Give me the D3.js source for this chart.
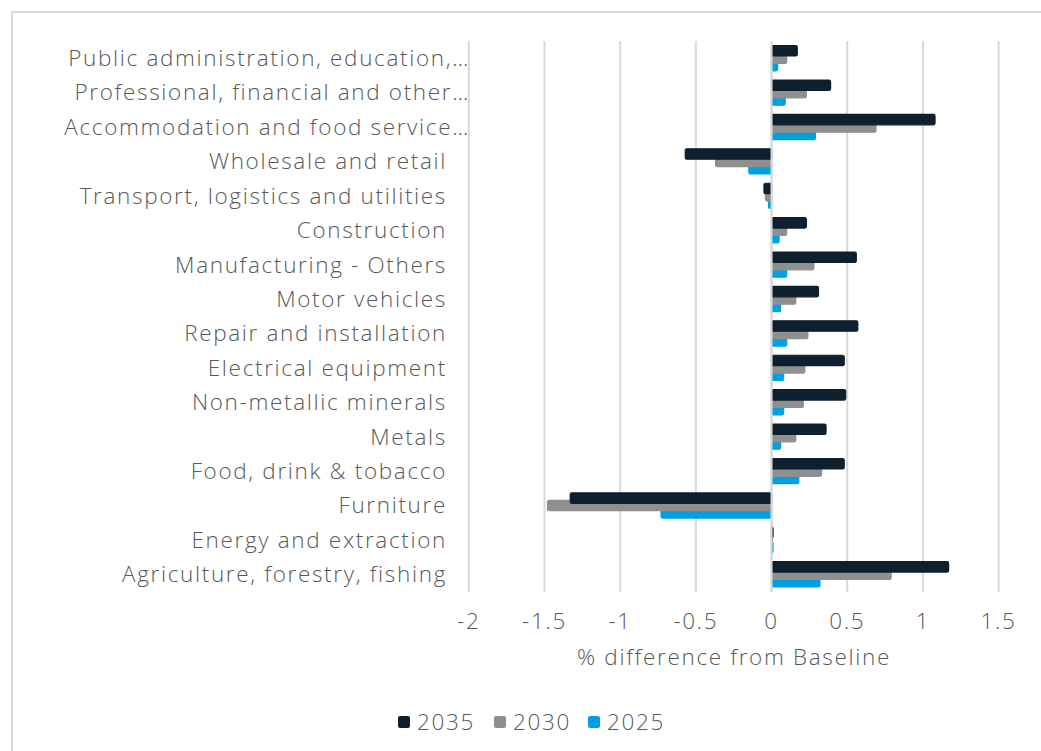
<!DOCTYPE html>
<html>
<head>
<meta charset="utf-8">
<script src="https://cdn.jsdelivr.net/npm/d3@7"></script>
<style>
  html, body { margin: 0; padding: 0; background: #fff; }
  svg { display: block; }
  text { font-family: "Open Sans", "Lato", sans-serif; font-weight: 300; fill: #595959; }
</style>
</head>
<body>
<svg id="chart" width="1041" height="751"></svg>
<script>
// Sector labels, top to bottom
const categories = [
  "Public administration, education,…",
  "Professional, financial and other…",
  "Accommodation and food service…",
  "Wholesale and retail",
  "Transport, logistics and utilities",
  "Construction",
  "Manufacturing - Others",
  "Motor vehicles",
  "Repair and installation",
  "Electrical equipment",
  "Non-metallic minerals",
  "Metals",
  "Food, drink & tobacco",
  "Furniture",
  "Energy and extraction",
  "Agriculture, forestry, fishing"
];

// % difference from baseline, per sector, per year
const values2035 = [0.17, 0.39, 1.08, -0.57, -0.05, 0.23, 0.56, 0.31, 0.57, 0.48, 0.49, 0.36, 0.48, -1.33, 0.01, 1.17];
const values2030 = [0.10, 0.23, 0.69, -0.37, -0.04, 0.10, 0.28, 0.16, 0.24, 0.22, 0.21, 0.16, 0.33, -1.48, 0.005, 0.79];
const values2025 = [0.04, 0.09, 0.29, -0.15, -0.02, 0.05, 0.10, 0.06, 0.10, 0.08, 0.08, 0.06, 0.18, -0.73, 0.01, 0.32];

const seriesNames = ["2035", "2030", "2025"];
const seriesValues = [values2035, values2030, values2025];
const seriesColors = ["#0e1f2d", "#8f8f8f", "#00a0e3"];

const xTicks = [-2, -1.5, -1, -0.5, 0, 0.5, 1, 1.5];

const svg = d3.select("#chart");
const grid = "#d9d9d9";
const fontSize = 22.5;

// widen the letter spacing so the longest plain label spans 325px
const probe = svg.append("text").attr("font-size", fontSize).text("Agriculture, forestry, fishing");
const natural = probe.node().getComputedTextLength();
probe.remove();
const spacing = Math.max(0, (325 - natural) / 30);

// outer frame (left and top edges)
svg.append("path")
  .attr("d", "M12,751 L12,12 L1041,12")
  .attr("fill", "none").attr("stroke", grid).attr("stroke-width", 2);

const x = d3.scaleLinear().domain([-2, 1.5]).range([468.8, 998.6]);
const y = d3.scaleBand().domain(categories).range([41, 591.5]).paddingInner(0).paddingOuter(0);
const sub = d3.scalePoint().domain(seriesNames).range([-7.4, 7.4]);
const barH = 10.4;

// vertical gridlines
svg.append("g").selectAll("line").data(xTicks).join("line")
  .attr("x1", d => x(d)).attr("x2", d => x(d))
  .attr("y1", 41).attr("y2", 592)
  .attr("stroke", grid).attr("stroke-width", 2);

// bars: 2025 first so later years sit on top
const rows = [];
seriesNames.forEach((s, si) => {
  categories.forEach((c, ci) => rows.push({ s, si, c, v: seriesValues[si][ci] }));
});
const order = [2, 1, 0];
const gBars = svg.append("g");
order.forEach(si => {
  gBars.append("g").selectAll("rect")
    .data(rows.filter(r => r.si === si))
    .join("rect")
    .attr("x", d => Math.min(x(0), x(d.v)))
    .attr("width", d => Math.max(0.8, Math.abs(x(d.v) - x(0))))
    .attr("y", d => y(d.c) + y.bandwidth() / 2 + sub(d.s) - barH / 2)
    .attr("height", barH)
    .attr("rx", 1.5)
    .attr("fill", seriesColors[si])
    .attr("stroke", seriesColors[si])
    .attr("stroke-width", 1.2);
});

// vertical axis line at zero
svg.append("line")
  .attr("x1", x(0)).attr("x2", x(0))
  .attr("y1", 41).attr("y2", 592)
  .attr("stroke", grid).attr("stroke-width", 2);

// category labels
svg.append("g").selectAll("text").data(categories).join("text")
  .attr("x", d => d.endsWith("…") ? 470 : 447)
  .attr("y", d => y(d) + y.bandwidth() / 2)
  .attr("dy", "0.35em")
  .attr("text-anchor", "end")
  .attr("font-size", fontSize)
  .attr("letter-spacing", spacing)
  .text(d => d);

// x tick labels
svg.append("g").selectAll("text").data(xTicks).join("text")
  .attr("x", d => x(d))
  .attr("y", 629)
  .attr("text-anchor", "middle")
  .attr("font-size", fontSize)
  .attr("letter-spacing", spacing)
  .text(d => String(d));

// axis title
svg.append("text")
  .attr("x", 734).attr("y", 665)
  .attr("text-anchor", "middle")
  .attr("font-size", fontSize)
  .attr("letter-spacing", spacing)
  .text("% difference from Baseline");

// legend
const legendX = [398, 494, 588];
const legend = svg.append("g").selectAll("g").data(seriesNames).join("g")
  .attr("transform", (d, i) => `translate(${legendX[i]},716)`);
legend.append("rect")
  .attr("width", 12).attr("height", 12).attr("rx", 2)
  .attr("fill", (d, i) => seriesColors[i]);
legend.append("text")
  .attr("x", 19).attr("y", 6).attr("dy", "0.35em")
  .attr("font-size", fontSize)
  .attr("letter-spacing", spacing)
  .text(d => d);
</script>
</body>
</html>
